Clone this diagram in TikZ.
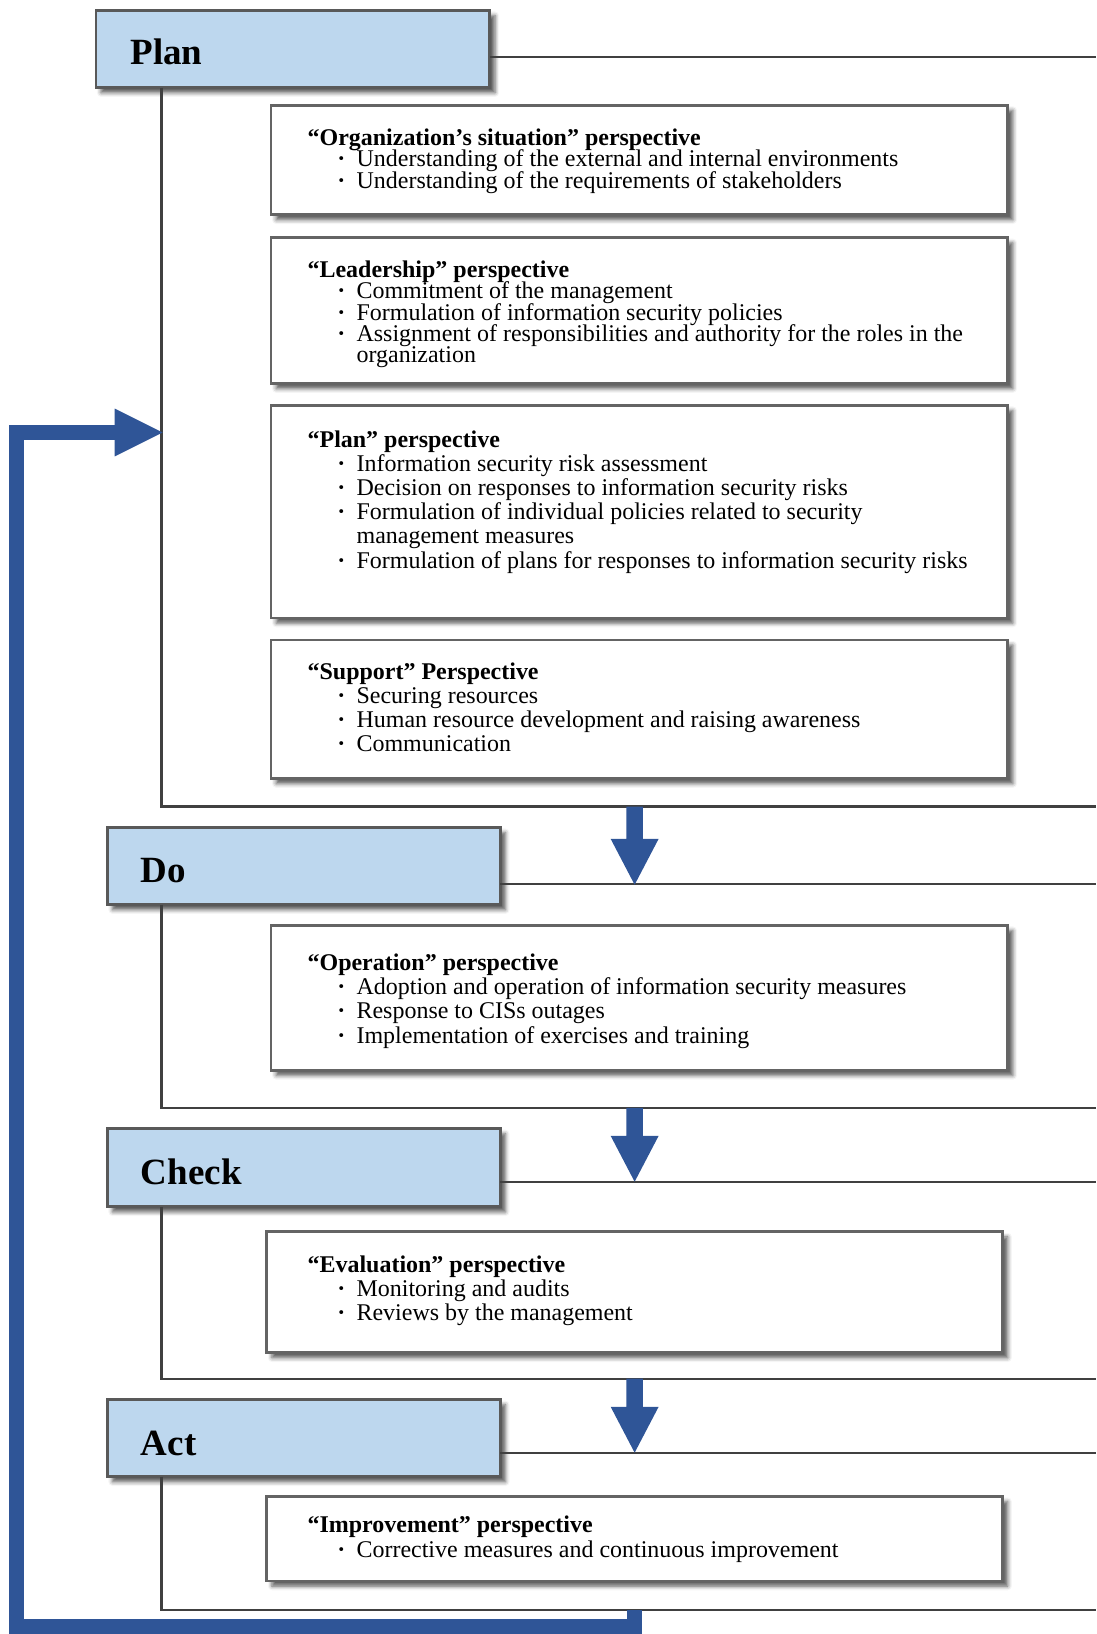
\documentclass[tikz,border=0pt]{standalone}
\usepackage{fontspec}
\setmainfont{Liberation Serif}
\usetikzlibrary{shadows.blur}
\definecolor{hdrfill}{RGB}{189,215,238}
\definecolor{hdrline}{RGB}{89,89,89}
\definecolor{boxline}{RGB}{100,100,100}
\definecolor{frameline}{RGB}{64,64,64}
\definecolor{pdcablue}{RGB}{47,85,151}
\newcommand\bitem{\makebox[47pt][l]{\hspace{28.5pt}\textbf{·}}}
\newcommand\bcont{\hspace*{47pt}}
\newcommand\fstrut{\rule{0pt}{17pt}}
\newcommand\pdcadown[2]{%
  \fill[pdcablue] (601,#1) -- (617,#1) -- (617,#2-44) -- (632,#2-44) -- (609,#2)
     -- (586,#2-44) -- (601,#2-44) -- cycle;}
\tikzset{
  shad/.style={blur shadow={shadow xshift=5pt, shadow yshift=-5pt, shadow blur radius=4pt, shadow opacity=65}},
  hdr/.style={shape=rectangle, draw=hdrline, line width=2.5pt, fill=hdrfill, anchor=north west, inner sep=0pt, outer sep=0pt, shad},
  pbox/.style={shape=rectangle, draw=boxline, line width=2.5pt, fill=white, anchor=north west, inner sep=0pt, outer sep=0pt, shad},
  hdrtext/.style={anchor=base west, inner sep=0pt, font=\fontsize{35.5}{40}\selectfont\bfseries},
  btext/.style={anchor=north west, inner sep=0pt, align=left},
  frame/.style={draw=frameline, line width=2.2pt},
  fb/.style={draw=pdcablue, line width=14pt, line join=miter},
}
\begin{document}
\begin{tikzpicture}[x=1pt,y=-1pt]
\useasboundingbox (0,0) rectangle (1052,1568);

% ---------- frames (coordinates) ----------
\coordinate (planTR) at (1052,55);
\coordinate (planBL) at (155,774);
\coordinate (planBR) at (1052,774);
\coordinate (doTR) at (1052,848);
\coordinate (doBL) at (155,1063);
\coordinate (doBR) at (1052,1063);
\coordinate (chkTR) at (1052,1134);
\coordinate (chkBL) at (155,1323);
\coordinate (chkBR) at (1052,1323);
\coordinate (actTR) at (1052,1394);
\coordinate (actBL) at (155,1545);
\coordinate (actBR) at (1052,1545);

% ---------- headers ----------
\node[hdr, minimum width=378pt, minimum height=74pt] (planH) at (92,10) {};
\node[hdr, minimum width=377pt, minimum height=74pt] (doH) at (103,794) {};
\node[hdr, minimum width=377pt, minimum height=75pt] (chkH) at (103,1083) {};
\node[hdr, minimum width=377pt, minimum height=74pt] (actH) at (103,1343) {};
\node[hdrtext] (planT) at (125,62) {Plan};
\node[hdrtext] (doT) at (135,847) {Do};
\node[hdrtext] (chkT) at (135,1137) {Check};
\node[hdrtext] (actT) at (135,1397) {Act};

% frame lines
\draw[frame] (planH.east |- planTR) -- (planTR);
\draw[frame] (planBL |- planH.south) -- (planBL) -- (planBR);
\draw[frame] (doH.east |- doTR) -- (doTR);
\draw[frame] (doBL |- doH.south) -- (doBL) -- (doBR);
\draw[frame] (chkH.east |- chkTR) -- (chkTR);
\draw[frame] (chkBL |- chkH.south) -- (chkBL) -- (chkBR);
\draw[frame] (actH.east |- actTR) -- (actTR);
\draw[frame] (actBL |- actH.south) -- (actBL) -- (actBR);

% ---------- perspective boxes ----------
\node[pbox, minimum width=707pt, minimum height=105pt] (orgB) at (260,101) {};
\node[pbox, minimum width=707pt, minimum height=140pt] (leadB) at (260,228) {};
\node[pbox, minimum width=707pt, minimum height=204pt] (planB) at (260,389) {};
\node[pbox, minimum width=707pt, minimum height=133pt] (suppB) at (260,614) {};
\node[pbox, minimum width=707pt, minimum height=139pt] (operB) at (260,888) {};
\node[pbox, minimum width=706pt, minimum height=116pt] (evalB) at (256,1182) {};
\node[pbox, minimum width=706pt, minimum height=81pt] (imprB) at (256,1436) {};

\node[btext, font={\fontsize{23}{20.7}\selectfont\lineskiplimit=-50pt}] (orgT) at (295,122) {%
\fstrut\textbf{“Organization’s situation” perspective}\\
\bitem Understanding of the external and internal environments\\
\bitem Understanding of the requirements of stakeholders};

\node[btext, font={\fontsize{23}{20.5}\selectfont\lineskiplimit=-50pt}] (leadT) at (295,249) {%
\fstrut\textbf{“Leadership” perspective}\\
\bitem Commitment of the management\\
\bitem Formulation of information security policies\\
\bitem Assignment of responsibilities and authority for the roles in the\\
\bcont organization};

\node[btext, font={\fontsize{23}{23.2}\selectfont\lineskiplimit=-50pt}] (planT2) at (295,412) {%
\fstrut\textbf{“Plan” perspective}\\
\bitem Information security risk assessment\\
\bitem Decision on responses to information security risks\\
\bitem Formulation of individual policies related to security\\
\bcont management measures\\
\bitem Formulation of plans for responses to information security risks};

\node[btext, font={\fontsize{23}{23}\selectfont\lineskiplimit=-50pt}] (suppT) at (295,635) {%
\fstrut\textbf{“Support” Perspective}\\
\bitem Securing resources\\
\bitem Human resource development and raising awareness\\
\bitem Communication};

\node[btext, font={\fontsize{23}{23.3}\selectfont\lineskiplimit=-50pt}] (operT) at (295,914) {%
\fstrut\textbf{“Operation” perspective}\\
\bitem Adoption and operation of information security measures\\
\bitem Response to CISs outages\\
\bitem Implementation of exercises and training};

\node[btext, font={\fontsize{23}{23}\selectfont\lineskiplimit=-50pt}] (evalT) at (295,1204) {%
\fstrut\textbf{“Evaluation” perspective}\\
\bitem Monitoring and audits\\
\bitem Reviews by the management};

\node[btext, font={\fontsize{23}{24}\selectfont\lineskiplimit=-50pt}] (imprT) at (295,1453) {%
\fstrut\textbf{“Improvement” perspective}\\
\bitem Corrective measures and continuous improvement};

% ---------- down arrows ----------
\pdcadown{774}{849}
\pdcadown{1063}{1134}
\pdcadown{1323}{1394}

% ---------- feedback arrow ----------
\coordinate (fbStart) at (609,1545);
\coordinate (fbTip) at (156,415);
\draw[fb] (fbStart) -- (609,1561) -- (16,1561) -- (16,415) -- (112,415);
\fill[pdcablue] (110,392) -- (fbTip) -- (110,438) -- cycle;
\end{tikzpicture}
\end{document}
